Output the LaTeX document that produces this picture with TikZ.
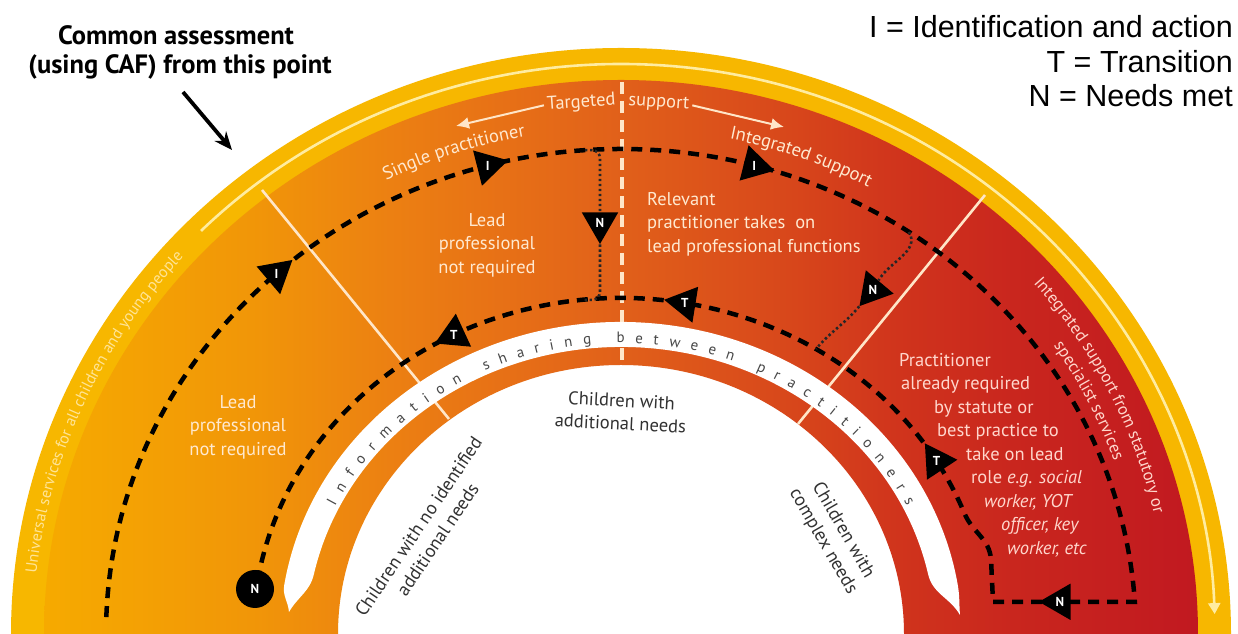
\documentclass[tikz,border=0pt]{standalone}
\usepackage{fontspec}
\setmainfont{PT Sans}
\newfontfamily\legendfont{Liberation Sans}
\usetikzlibrary{arrows.meta,shapes.geometric,decorations.text}

% colours
\definecolor{ringYellow}{RGB}{247,183,0}
\definecolor{ringLine}{RGB}{255,236,160}
\definecolor{ringText}{RGB}{255,228,150}
\definecolor{paleText}{RGB}{255,233,208}
\definecolor{pinkText}{RGB}{255,214,204}
\definecolor{sectorLine}{RGB}{255,230,200}
\definecolor{bandText}{RGB}{72,72,72}
\definecolor{kidText}{RGB}{50,50,50}
\definecolor{gA}{RGB}{246,170,0}
\definecolor{gB}{RGB}{241,150,8}
\definecolor{gC}{RGB}{236,128,18}
\definecolor{gD}{RGB}{231,112,22}
\definecolor{gE}{RGB}{225,96,26}
\definecolor{gF}{RGB}{216,72,27}
\definecolor{gG}{RGB}{208,52,28}
\definecolor{gH}{RGB}{201,38,30}
\definecolor{gI}{RGB}{193,25,32}

\pgfdeclarehorizontalshading{needsshade}{100bp}{color(0bp)=(gA); color(25bp)=(gA);
  color(34bp)=(gB); color(40bp)=(gC); color(45bp)=(gD); color(50bp)=(gE);
  color(57bp)=(gF); color(62bp)=(gG); color(67bp)=(gH); color(75bp)=(gI); color(100bp)=(gI)}

\newcommand{\ringfont}{\fontsize{16bp}{16bp}\selectfont}
\newcommand{\bandfont}{\fontsize{15bp}{15bp}\selectfont}
\newcommand{\arcfont}{\fontsize{18.5bp}{18.5bp}\selectfont}
\newcommand{\sidefont}{\fontsize{17bp}{17bp}\selectfont}

\tikzset{
  loopdash/.style={line width=4.5bp, dash pattern=on 11bp off 8bp},
  nbranch/.style={line width=2.6bp, dash pattern=on 2.4bp off 2.6bp, black!85},
  flagmark/.style={regular polygon, regular polygon sides=3, fill=black, text=white,
    inner sep=0pt, minimum size=42bp, font=\fontsize{13bp}{13bp}\selectfont\bfseries,
    shape border rotate=#1},
  endmark/.style={circle, fill=black, text=white, inner sep=0pt, minimum size=38bp,
    font=\fontsize{13bp}{13bp}\selectfont\bfseries},
  sectorline/.style={sectorLine, line width=2.6bp},
  centredash/.style={sectorLine, line width=3.5bp, dash pattern=on 12bp off 7bp},
  sectortext/.style={paleText, align=center, inner sep=0pt, font=\fontsize{18.5bp}{23.5bp}\selectfont},
  kidtext/.style={kidText, align=center, inner sep=0pt, font=\fontsize{18.5bp}{23bp}\selectfont},
  legendtext/.style={inner sep=0pt, font=\legendfont\fontsize{30.5bp}{30.5bp}\selectfont},
  titletext/.style={inner sep=0pt, font=\bfseries\fontsize{26.5bp}{26.5bp}\selectfont},
  tsarrow/.style={sectorLine, line width=2bp, -{Latex[length=13bp,width=12bp]}},
  cafarrow/.style={line width=3.8bp, -{Stealth[length=18bp,width=15bp]}},
  ringline/.style={ringLine, line width=2.6bp, -{Triangle[length=11bp,width=12bp]}},
  arctext/.style={decorate, decoration={text along path, text align=center, text color=#1}},
}

\begin{document}
\begin{tikzpicture}[x=1bp, y=1bp]
  \useasboundingbox (0,0) rectangle (1238,634);
  \fill[white] (0,0) rectangle (1238,634);
  \coordinate (ctr) at (621,0);

  % Outer ring
  \fill[ringYellow] ([shift={(180:610 and 586)}]ctr) arc[start angle=180, end angle=0, x radius=610, y radius=586]
    -- ([shift={(0:570 and 547)}]ctr) arc[start angle=0, end angle=180, x radius=570, y radius=547] -- cycle;
  \draw[ringline] ([shift={(135:594 and 570)}]ctr) arc[start angle=135, end angle=2, x radius=594, y radius=570];

  % Needs area
  \shade[shading=needsshade] ([shift={(180:577 and 554)}]ctr) arc[start angle=180, end angle=0, x radius=577, y radius=554]
    -- ([shift={(0:283 and 269)}]ctr) arc[start angle=0, end angle=180, x radius=283, y radius=269] -- cycle;

  % Sector borders
  \coordinate (secLa) at (262,444);
  \coordinate (secLb) at (449,215);
  \coordinate (secRa) at (985,439);
  \coordinate (secRb) at (798,210);
  \coordinate (secCa) at (622,552);
  \coordinate (secCb) at (622,269);
  \draw[sectorline] (secLa) -- (secLb);
  \draw[sectorline] (secRa) -- (secRb);
  \draw[centredash] (secCa) -- (secCb);

  % Information sharing band
  \coordinate (tipL) at (289,22);
  \coordinate (tipR) at (960,19);
  \fill[white] (tipL) to[out=95,in=-100] ([shift={(171:341 and 312)}]ctr)
    arc[start angle=171, end angle=9, x radius=341, y radius=312] to[out=-80,in=95] (tipR)
    to[out=120,in=-77] ([shift={(12:314 and 287)}]ctr)
    arc[start angle=12, end angle=168, x radius=314, y radius=287] to[out=-103,in=60] (tipL) -- cycle;
  \path[decorate, decoration={text along path, text={|\bandfont|Information sharing between practitioners},
    text align=fit to path, text color=bandText}]
    ([shift={(154:318 and 291)}]ctr) arc[start angle=154, end angle=26, x radius=318, y radius=291];

  % Curved labels
  \path[arctext=ringText, decoration={text={|\ringfont|Universal services for all children and young people}}]
    ([shift={(178:588 and 564)}]ctr) arc[start angle=178, end angle=134, x radius=588, y radius=564];
  \path[arctext=paleText, decoration={text={|\arcfont|Single practitioner}}]
    ([shift={(125:527 and 506)}]ctr) arc[start angle=125, end angle=92, x radius=527, y radius=506];
  \path[arctext=paleText, decoration={text={|\arcfont|Integrated support}}]
    ([shift={(88:527 and 506)}]ctr) arc[start angle=88, end angle=52, x radius=527, y radius=506];
  \path[arctext=pinkText, decoration={text={|\sidefont|Integrated support from statutory or}}]
    ([shift={(50:547 and 534)}]ctr) arc[start angle=50, end angle=4, x radius=547, y radius=534];
  \path[arctext=pinkText, decoration={text={|\sidefont|specialist services}}]
    ([shift={(50:524 and 511)}]ctr) arc[start angle=50, end angle=4, x radius=524, y radius=511];

  % Targeted support
  \node[sectortext, anchor=base east, rotate=4] (tgtL) at (616,529) {Targeted};
  \node[sectortext, anchor=base west, rotate=-4] (tgtR) at (628,529) {support};
  \coordinate (arrL) at (456,508);
  \coordinate (arrR) at (784,507);
  \draw[tsarrow] ([xshift=-3]tgtL.west) -- (arrL);
  \draw[tsarrow] ([xshift=3]tgtR.east) -- (arrR);

  % Sector texts
  \node[sectortext] (leadL) at (238,207) {Lead\\professional\\not required};
  \node[sectortext] (leadC) at (487,389) {Lead\\professional\\not required};
  \node[sectortext, align=left, anchor=west] (relTxt) at (647,410)
    {Relevant\\practitioner takes\ \ on\\lead professional functions};
  \node[sectortext, pinkText, align=left, anchor=north west] (pracTxt) at (899,281)
    {Practitioner\\
     \hspace*{2bp}already required\\
     \hspace*{35bp}by statute or\\
     \hspace*{38bp}best practice to\\
     \hspace*{67bp}take on lead\\
     \hspace*{72bp}role \textit{e.g. social}\\
     \hspace*{85bp}\textit{worker, YOT}\\
     \hspace*{102bp}\textit{officer, key}\\
     \hspace*{108bp}\textit{worker, etc}};

  % Groups of children
  \node[kidtext, rotate=-3] (kidsAdd) at (621,222) {Children with\\additional needs};
  \node[kidtext, rotate=56] (kidsNone) at (428,101) {Children with no identified\\additional needs};
  \node[kidtext, rotate=-60] (kidsCplx) at (833,98) {Children with\\complex needs};

  % Pathway
  \coordinate (loopStart) at ([shift={(178:515 and 485)}]ctr);
  \coordinate (cornerL) at (993,32.2);
  \coordinate (riseTop) at (991,75);
  \coordinate (lowJoin) at ([shift={(21:368 and 336)}]ctr);
  \draw[loopdash] (loopStart) arc[start angle=178, end angle=3.8, x radius=515, y radius=485]
    -- (cornerL) -- (riseTop) to[out=95,in=-67] (lowJoin)
    arc[start angle=21, end angle=172, x radius=368, y radius=336];

  \node[flagmark=-49.7] (iOne) at ([shift={(132:515 and 485)}]ctr) {I};
  \node[flagmark=-75.8] (iTwo) at ([shift={(105:515 and 485)}]ctr) {I};
  \node[flagmark=-104.2] (iThree) at ([shift={(75:515 and 485)}]ctr) {I};
  \node[flagmark=90] (nFour) at (1060,32.2) {N};
  \node[flagmark=33.3] (tOne) at ([shift={(31:368 and 336)}]ctr) {T};
  \node[flagmark=80.9] (tTwo) at ([shift={(80:368 and 336)}]ctr) {T};
  \node[flagmark=114.9] (tThree) at ([shift={(117:368 and 336)}]ctr) {T};
  \node[endmark] (nEnd) at (255,45) {N};

  % Needs met branches
  \coordinate (brA) at ([shift={(94:515 and 485)}]ctr);
  \coordinate (brB) at ([shift={(96:368 and 336)}]ctr);
  \coordinate (brC) at ([shift={(56:515 and 485)}]ctr);
  \coordinate (brD) at ([shift={(58:368 and 336)}]ctr);
  \node[flagmark=-180] (nA) at (600,411) {N};
  \node[flagmark=140] (nB) at (873,344) {N};
  \draw[nbranch, rounded corners=8bp] (brA) -| (nA) |- (brB);
  \draw[nbranch] (brC) to[out=-60,in=60] (nB) to[out=-130,in=50] (brD);

  % Title and legend
  \node[titletext, anchor=base] (titleA) at (176,589) {Common assessment};
  \node[titletext, anchor=base] (titleB) at (180,560) {(using CAF) from this point};
  \coordinate (cafPoint) at (232,484);
  \draw[cafarrow] ([shift={(3,-12)}]titleB.south) -- (cafPoint);

  \node[legendtext, anchor=base east] (legI) at (1233,596) {I = Identification and action};
  \node[legendtext, anchor=base east] (legT) at (1233,561) {T = Transition};
  \node[legendtext, anchor=base east] (legN) at (1233,527) {N = Needs met};
\end{tikzpicture}
\end{document}
